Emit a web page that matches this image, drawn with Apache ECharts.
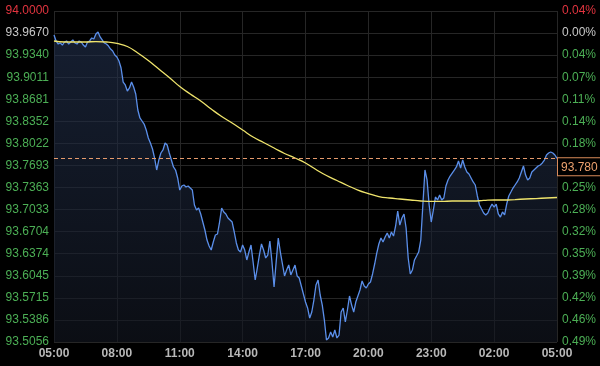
<!DOCTYPE html>
<html><head><meta charset="utf-8">
<script src="https://cdn.jsdelivr.net/npm/echarts@6/dist/echarts.min.js"></script>
<style>html,body{margin:0;padding:0;background:#000;}#c{width:600px;height:366px;}</style>
</head><body><div id="c"></div>
<script>
// ---- data ----
const xLabels = ['05:00','08:00','11:00','14:00','17:00','20:00','23:00','02:00','05:00'];
const yLabels = ['93.5056','93.5386','93.5715','93.6045','93.6374','93.6704','93.7033','93.7363','93.7693','93.8022','93.8352','93.8681','93.9011','93.9340','93.9670','94.0000'];
const pctLabels = ['0.49%','0.46%','0.42%','0.39%','0.35%','0.32%','0.28%','0.25%','0.21%','0.18%','0.14%','0.11%','0.07%','0.04%','0.00%','0.04%'];
const priceStepMin = 6;   // minutes between price samples, from 05:00
const price = [
93.9642,93.9552,93.9507,93.9522,93.9492,93.9537,93.9552,93.9507,93.9537,93.9567,
93.9522,93.9507,93.9552,93.9537,93.9492,93.9462,93.9537,93.9552,93.9597,93.9582,
93.9656,93.9686,93.9612,93.9567,93.9522,93.9507,93.9477,93.9432,93.9403,93.9343,
93.9313,93.9253,93.9149,93.8939,93.8895,93.8805,93.8850,93.8939,93.8865,93.8760,
93.8521,93.8402,93.8357,93.8312,93.8222,93.8103,93.8028,93.7939,93.7804,93.7625,
93.7774,93.7879,93.7924,93.8028,93.7998,93.7879,93.7774,93.7670,93.7625,93.7506,
93.7326,93.7386,93.7401,93.7371,93.7386,93.7356,93.7326,93.7102,93.7028,93.7057,
93.6968,93.6848,93.6729,93.6579,93.6490,93.6430,93.6550,93.6654,93.6669,93.6848,
93.7057,93.6998,93.6968,93.6908,93.6878,93.6848,93.6699,93.6535,93.6430,93.6400,
93.6505,93.6430,93.6281,93.6400,93.6505,93.6251,93.5982,93.6161,93.6355,93.6520,
93.6430,93.6311,93.6355,93.6564,93.6251,93.5877,93.6251,93.6609,93.6400,93.6221,
93.6042,93.6131,93.6206,93.6057,93.6131,93.6206,93.6042,93.6012,93.5892,93.5773,
93.5653,93.5564,93.5414,93.5504,93.5683,93.5907,93.5982,93.5758,93.5608,93.5384,
93.5086,93.5116,93.5205,93.5131,93.5235,93.5116,93.5160,93.5504,93.5564,93.5355,
93.5534,93.5743,93.5608,93.5504,93.5653,93.5743,93.5833,93.5967,93.5892,93.5862,
93.5922,93.5952,93.6072,93.6221,93.6385,93.6520,93.6609,93.6550,93.6624,93.6684,
93.6609,93.6699,93.6639,93.6789,93.7013,93.6803,93.6908,93.6968,93.6759,93.6311,
93.6072,93.6131,93.6281,93.6340,93.6400,93.6579,93.7102,93.7625,93.7476,93.7102,
93.6848,93.7027,93.7222,93.7177,93.7252,93.7177,93.7207,93.7386,93.7476,93.7535,
93.7580,93.7625,93.7670,93.7759,93.7655,93.7774,93.7670,93.7595,93.7565,93.7506,
93.7446,93.7401,93.7237,93.7102,93.7042,93.6983,93.6953,93.6983,93.7057,93.7117,
93.7072,93.7117,93.6968,93.6923,93.6998,93.6953,93.7117,93.7237,93.7296,93.7356,
93.7401,93.7446,93.7506,93.7595,93.7685,93.7550,93.7476,93.7506,93.7595,93.7625,
93.7655,93.7685,93.7700,93.7730,93.7774,93.7849,93.7879,93.7894,93.7879,93.7849,
93.7800];
const avgStepMin = 30;
const avg = [
93.9552,93.9537,93.9537,93.9537,93.9544,93.9537,93.9515,93.9470,93.9373,93.9261,
93.9134,93.9007,93.8872,93.8760,93.8656,93.8536,93.8424,93.8327,93.8222,93.8118,
93.8036,93.7954,93.7871,93.7804,93.7730,93.7632,93.7543,93.7468,93.7394,93.7326,
93.7274,93.7229,93.7207,93.7192,93.7177,93.7162,93.7155,93.7155,93.7162,93.7162,
93.7162,93.7170,93.7177,93.7177,93.7184,93.7192,93.7199,93.7207,93.7214];
const lastPriceText = '93.780';
const lastPriceLine = 93.7765;
const yMin = 93.5056, yMax = 94.0;

// ---- chart ----
const yInterval = (yMax - yMin) / 15;
const RED = '#e2343f', GREEN = '#4caf55', GRAY = '#c8c8c8';
function idxOf(v){ return Math.round((v - yMin) / yInterval); }
function labColor(v){ const i = idxOf(v); return i === 15 ? RED : (i === 14 ? GRAY : GREEN); }
const FONT = '"Liberation Sans", Arial, sans-serif';
const chart = echarts.init(document.getElementById('c'), null, {renderer:'canvas'});
chart.setOption({
  backgroundColor: '#000',
  animation: false,
  grid: {left: 54, right: 43, top: 11, bottom: 24},
  xAxis: {
    type: 'value', min: 0, max: 1440, interval: 180,
    axisLine: {show: false}, axisTick: {show: false},
    splitLine: {show: true, lineStyle: {color: '#262626', width: 1}},
    axisLabel: {
      color: '#b8b8b8', fontSize: 12, fontWeight: 'bold', fontFamily: FONT, margin: 6,
      showMinLabel: true, showMaxLabel: true,
      formatter: v => xLabels[Math.round(v / 180)]
    }
  },
  yAxis: [{
    type: 'value', min: yMin, max: yMax, interval: yInterval, position: 'left',
    axisLine: {show: false}, axisTick: {show: false},
    splitLine: {show: true, lineStyle: {color: '#262626', width: 1}},
    axisLabel: {
      fontSize: 12, fontFamily: FONT, margin: 5,
      showMinLabel: true, showMaxLabel: true,
      formatter: v => yLabels[idxOf(v)],
      color: v => labColor(v)
    }
  }, {
    type: 'value', min: yMin, max: yMax, interval: yInterval, position: 'right',
    axisLine: {show: false}, axisTick: {show: false}, splitLine: {show: false},
    axisLabel: {
      fontSize: 12, fontFamily: FONT, margin: 5,
      showMinLabel: true, showMaxLabel: true,
      formatter: v => pctLabels[idxOf(v)],
      color: v => labColor(v)
    }
  }],
  series: [{
    type: 'line', name: 'price', yAxisIndex: 0,
    data: price.map((v, i) => [i * priceStepMin, v]),
    symbol: 'none', z: 3,
    lineStyle: {color: '#5b8fea', width: 1.3},
    areaStyle: {color: new echarts.graphic.LinearGradient(0, 0, 0, 1, [
      {offset: 0, color: 'rgba(35,50,80,0.85)'},
      {offset: 1, color: 'rgba(18,22,32,0.9)'}
    ])},
    markLine: {
      silent: true, symbol: 'none',
      lineStyle: {color: '#e59a6c', type: [4, 3], width: 1},
      data: [{yAxis: lastPriceLine}],
      label: {
        show: true, position: 'end', distance: 1,
        formatter: lastPriceText, color: '#eba06e', fontSize: 12, fontFamily: FONT,
        backgroundColor: '#000', borderColor: '#d98a5a', borderWidth: 1,
        padding: [3, 3, 2, 3], verticalAlign: 'top'
      }
    }
  }, {
    type: 'line', name: 'avg', yAxisIndex: 0,
    data: avg.map((v, i) => [i * avgStepMin, v]),
    symbol: 'none', smooth: true, z: 4,
    lineStyle: {color: '#efe46c', width: 1.3}
  }]
});
</script></body></html>
